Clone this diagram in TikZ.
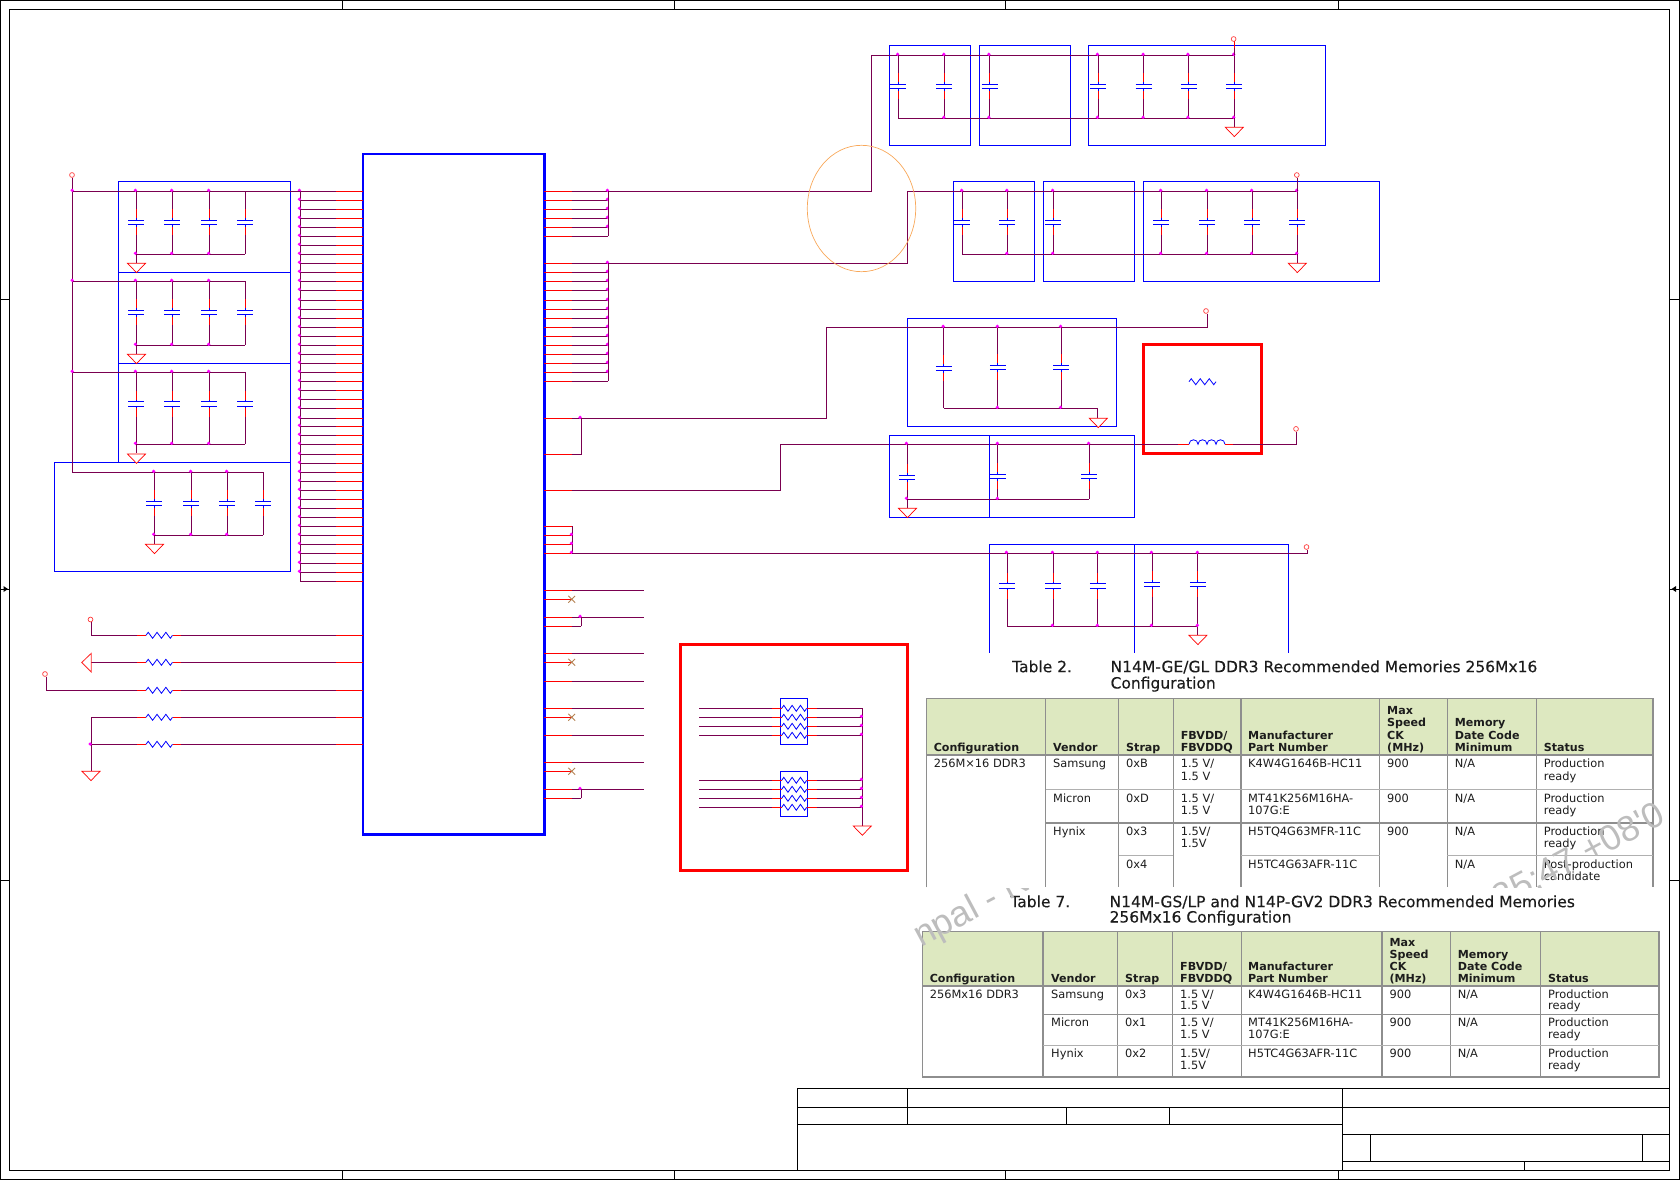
\documentclass[tikz,border=0pt]{standalone}
\usepackage{fontspec}
\setmainfont{DejaVu Sans}
\newfontfamily\wmfont{Liberation Sans}
\newfontfamily\captfont[FakeBold=0.25]{DejaVu Sans}
\definecolor{wirec}{HTML}{7A0050}
\definecolor{dotc}{HTML}{FF00FF}
\definecolor{hdrc}{HTML}{DDE8C0}
\definecolor{gridc}{HTML}{8E8E8E}
\definecolor{xc}{HTML}{B48050}
\definecolor{ovalc}{HTML}{F8A85A}
\definecolor{wmc}{HTML}{BDBDBD}
\definecolor{txtc}{HTML}{1C1C1C}
\tikzset{
  wire/.style={draw=wirec,line width=0.9pt},
  lead/.style={draw=red,line width=0.9pt},
  part/.style={draw=blue,line width=0.9pt},
  bluebox/.style={draw=blue,line width=0.9pt},
  redbox/.style={draw=red,line width=3pt},
  frameline/.style={draw=black,line width=0.9pt},
  gridline/.style={draw=gridc,line width=1.1pt},
  gridthin/.style={draw=gridc!70,line width=0.9pt},
  gnd/.style={draw=red,line width=0.7pt,fill=white},
  opencirc/.style={draw=red!75,line width=0.7pt},
  body/.style={anchor=base west,yshift=-4pt,inner sep=0pt,text=txtc,font=\fontsize{11.4}{13}\selectfont},
  head/.style={anchor=base west,yshift=-4pt,inner sep=0pt,text=txtc,font=\fontsize{11.1}{13}\selectfont\bfseries},
  capt/.style={anchor=base west,yshift=-5.5pt,inner sep=0pt,text=txtc,font=\captfont\fontsize{15.5}{17}\selectfont},
}
\newcount\tcnt
\newcommand\sDot[2]{\fill[dotc] (#1-0.6,#2-1) circle (1.8);}
\newcommand\sCap[4]{% x, ytop, plate y, ybot
  \draw[wire] (#1,#2) -- (#1,#4);
  \draw[lead] (#1,#3-11) -- (#1,#3+15);
  \fill[white] (#1-1,#3) rectangle (#1+1,#3+4.5);
  \draw[part,line width=1pt] (#1-8,#3) -- (#1+8,#3) (#1-8,#3+4.5) -- (#1+8,#3+4.5) (#1,#3-2) -- (#1,#3) (#1,#3+4.5) -- (#1,#3+6.5);
}
\newcommand\sGnd[2]{\draw[gnd] (#1-9,#2) -- (#1+9,#2) -- (#1,#2+9.3) -- cycle;}
\newcommand\sOpen[2]{\draw[opencirc] (#1,#2) circle (2.4);}
\newcommand\sRes[3]{% x1,x2,y
  \pgfmathsetmacro\zs{(#2-#1)/6}
  \pgfmathsetmacro\zh{\zs/2}
  \draw[part,line width=0.8pt] (#1,#3) -- ++(\zh,-3) -- ++(\zs,6) -- ++(\zs,-6) -- ++(\zs,6) -- ++(\zs,-6) -- ++(\zs,6) -- ++(\zh,-3);
}
\newcommand\sRline[2]{% x start, y
  \draw[wire] (#1,#2) -- (137,#2);
  \draw[lead] (137,#2) -- (146,#2);
  \sRes{146}{172.5}{#2}
  \draw[lead] (172.5,#2) -- (181,#2);
  \draw[wire] (181,#2) -- (336,#2);
  \draw[lead] (336,#2) -- (363,#2);
}
\newcommand\sX[2]{\draw[xc,line width=0.9pt] (#1-3.4,#2-3.4) -- (#1+3.4,#2+3.4) (#1-3.4,#2+3.4) -- (#1+3.4,#2-3.4);}
\newcommand\sRN[1]{% one line of resistor network
  \draw[wire] (699,#1) -- (771.7,#1);
  \draw[lead] (771.7,#1) -- (781.7,#1);
  \sRes{781.7}{806.7}{#1}
  \draw[lead] (806.7,#1) -- (816.7,#1);
  \draw[wire] (816.7,#1) -- (862.3,#1);
}
\newcommand\sT[4][body]{\global\advance\tcnt by 1 \node[#1] (t\the\tcnt) at (#2,#3) {#4};}
\begin{document}
\begin{tikzpicture}[x=1pt,y=-1pt]
\useasboundingbox (0,0) rectangle (1680,1180);
% --- frame
\draw[frameline] (0.7,0.7) rectangle (1679.3,1179.3);
\draw[frameline] (9.7,9.5) rectangle (1669.7,1170.3);
\foreach \x in {342,674,1005.5,1338} {\draw[frameline] (\x,0.7) -- (\x,9.5); \draw[frameline] (\x,1170.3) -- (\x,1179.3);}
\foreach \y in {299.5,880} {\draw[frameline] (0.7,\y) -- (9.7,\y); \draw[frameline] (1669.7,\y) -- (1679.3,\y);}
\draw[frameline] (0.7,589) -- (9.7,589);
\draw[frameline] (1669.7,589) -- (1679.3,589);
\fill[black] (8,589) -- (3.5,586) -- (3.5,592) -- cycle;
\fill[black] (1671.5,589) -- (1676,586) -- (1676,592) -- cycle;
% --- title block
\draw[frameline] (797,1170.3) -- (797,1088.7) -- (1669.7,1088.7);
\draw[frameline] (797,1107.7) -- (1669.7,1107.7);
\draw[frameline] (797,1124.3) -- (1342.7,1124.3);
\draw[frameline] (1342.7,1088.7) -- (1342.7,1170.3);
\draw[frameline] (907.5,1088.7) -- (907.5,1124.3);
\draw[frameline] (1066.7,1107.7) -- (1066.7,1124.3);
\draw[frameline] (1169.3,1107.7) -- (1169.3,1124.3);
\draw[frameline] (1342.7,1134.3) -- (1669.7,1134.3);
\draw[frameline] (1342.7,1161.3) -- (1669.7,1161.3);
\draw[frameline] (1370.7,1134.3) -- (1370.7,1161.3);
\draw[frameline] (1642.5,1134.3) -- (1642.5,1161.3);
\draw[frameline] (1524,1161.3) -- (1524,1170.3);
% --- main IC
\draw[draw=blue,line width=2.8pt] (363,154) rectangle (544.3,834.5);
% --- left pins
\draw[wire] (300.3,191.3) -- (300.3,581.3);
\foreach \y in {191.3,200.3,209.3,218.3,227.3,236.3,245.3,254.3,263.3,272.3,281.3,290.3,300.3,309.3,318.3,327.3,336.3,345.3,354.3,363.3,372.3,381.3,390.3,399.3,408.3,418.3,426.3,435.3,444.3,454.3,463.3,472.3,481.3,490.3,499.3,508.3,517.3,526.3,535.3,544.3,553.3,563.3,572.3}
 {\draw[wire] (300.3,\y) -- (336,\y); \draw[lead] (336,\y) -- (363,\y); \sDot{300}{\y}}
\draw[wire] (300.3,581.3) -- (336,581.3); \draw[lead] (336,581.3) -- (363,581.3);
% --- left decoupling boxes
\draw[bluebox] (118.3,181.3) rectangle (290.3,272.3);
\draw[bluebox] (118.3,272.3) rectangle (290.3,363.3);
\draw[bluebox] (118.3,363.3) rectangle (290.3,462.3);
\draw[bluebox] (54.3,462.3) rectangle (290.3,571.3);
\sOpen{72}{175}
\draw[wire] (72.3,177.5) -- (72.3,472.3) -- (263.3,472.3);
\draw[wire] (72.3,191.3) -- (300.3,191.3);
\draw[wire] (72.3,281.3) -- (245.3,281.3);
\draw[wire] (72.3,372.3) -- (245.3,372.3);
\foreach \y in {191.3,281.3,372.3} {\sDot{72.8}{\y}}
\foreach \yt/\yp/\yb in {191.3/220.3/254.3,281.3/310.3/345.3,372.3/401.7/444.3} {
  \draw[wire] (136,\yb) -- (245.3,\yb);
  \foreach \x in {136,172.3,209.3,245.3} {\sCap{\x}{\yt}{\yp}{\yb}}
  \foreach \x in {136,172.3,209.3} {\sDot{\x}{\yt}\sDot{\x}{\yb}}
  \draw[wire] (136,\yb) -- (136,\yb+9);
}
\sGnd{136.5}{263.3}
\sGnd{136.5}{354.3}
\sGnd{136.5}{454}
\draw[wire] (154.3,535.3) -- (263.3,535.3);
\foreach \x in {154.3,191.3,227.3,263.3} {\sCap{\x}{472.3}{501.3}{535.3}}
\foreach \x in {154.3,191.3,227.3} {\sDot{\x}{472.3}\sDot{\x}{535.3}}
\draw[wire] (154.3,535.3) -- (154.3,544.3);
\sGnd{154.5}{544.3}
% --- left resistors
\sRline{91.3}{635.3}
\draw[wire] (91.3,622) -- (91.3,635.3);
\sOpen{90.5}{619.5}
\sRline{91.3}{662.3}
\draw[draw=red!85,line width=0.8pt] (91.3,653.3) -- (91.3,672) -- (81.7,662.5) -- cycle;
\sRline{46.3}{690.3}
\draw[wire] (46.3,676.7) -- (46.3,690.3);
\sOpen{45}{674}
\sRline{91.3}{717.3}
\sRline{91.3}{744.3}
\draw[wire] (91.3,717.3) -- (91.3,771.3);
\sDot{90.8}{745}
\sGnd{91}{771.3}
% --- right pins, groups A, B
\foreach \y in {191.3,200.3,209.3,218.3,227.3,263.3,272.3,281.3,290.3,300.3,309.3,318.3,327.3,336.3,345.3,354.3,363.3,372.3}
 {\draw[lead] (544.3,\y) -- (571.7,\y); \draw[wire] (571.7,\y) -- (608.3,\y); \sDot{608}{\y}}
\foreach \y in {236.3,381.3}
 {\draw[lead] (544.3,\y) -- (571.7,\y); \draw[wire] (571.7,\y) -- (608.3,\y);}
\draw[wire] (608.3,191.3) -- (608.3,236.3);
\draw[wire] (608.3,263.3) -- (608.3,381.3);
% --- top row
\draw[bluebox] (889.3,45.3) rectangle (970.5,145.3);
\draw[bluebox] (979.4,45.3) rectangle (1070.4,145.3);
\draw[bluebox] (1088.4,45.3) rectangle (1325.2,145.3);
\draw[wire] (608.3,191.3) -- (871.3,191.3) -- (871.3,55.3) -- (1234.3,55.3);
\draw[wire] (898.2,118.3) -- (1234.3,118.3);
\foreach \x in {898.2,944.4,989.5,1098,1143.7,1188.5,1234.3} {\sCap{\x}{55.3}{84.3}{118.3}\sDot{\x}{55.3}}
\foreach \x in {944.4,989.5,1098,1143.7,1188.5,1234.3} {\sDot{\x}{118.3}}
\draw[wire] (1234.3,118.3) -- (1234.3,127.3);
\sGnd{1234.3}{127.3}
\draw[lead] (1234.3,41.5) -- (1234.3,48);
\draw[wire] (1234.3,48) -- (1234.3,55.3);
\sOpen{1233.6}{39}
% --- second row
\draw[bluebox] (953.3,181.3) rectangle (1034.2,281.3);
\draw[bluebox] (1043.2,181.3) rectangle (1134.5,281.3);
\draw[bluebox] (1143.4,181.3) rectangle (1379.3,281.3);
\draw[wire] (608.3,263.3) -- (907.3,263.3) -- (907.3,191.3) -- (1297.3,191.3);
\draw[wire] (962.3,254.3) -- (1297.3,254.3);
\foreach \x in {962.3,1007.4,1053.2,1161.3,1207.1,1252.2,1297.3} {\sCap{\x}{191.3}{220.3}{254.3}\sDot{\x}{191.3}}
\foreach \x in {1007.4,1053.2,1161.3,1207.1,1252.2,1297.3} {\sDot{\x}{254.3}}
\draw[wire] (1297.3,254.3) -- (1297.3,263.3);
\sGnd{1297.3}{263.3}
\draw[wire] (1297.3,177.5) -- (1297.3,191.3);
\sOpen{1296.8}{175}
% --- oval marking
\draw[ovalc,line width=0.7pt] (861.5,208.5) ellipse [x radius=54.2,y radius=63.2];
% --- third block
\draw[bluebox] (907.6,318.3) rectangle (1116.7,426.3);
\draw[lead] (544.3,418.3) -- (571.7,418.3);
\draw[wire] (571.7,418.3) -- (826.3,418.3) -- (826.3,327.3) -- (1207,327.3) -- (1207,313.5);
\sOpen{1206}{311}
\draw[lead] (544.3,454.3) -- (571.7,454.3);
\draw[wire] (571.7,454.3) -- (581,454.3) -- (581,418.3);
\sDot{580.6}{418.3}
\draw[wire] (943.8,408.3) -- (1097.9,408.3) -- (1097.9,418.3);
\sCap{943.8}{327.3}{366.3}{408.3}
\sCap{997.9}{327.3}{365.3}{408.3}
\sCap{1061.1}{327.3}{365.3}{408.3}
\foreach \x in {943.8,997.9,1061.1} {\sDot{\x}{327.3}}
\foreach \x in {997.9,1061.1} {\sDot{\x}{408.3}}
\sGnd{1098.3}{418.3}
% --- red box with series parts
\draw[redbox] (1143.8,344) rectangle (1261.1,453.7);
\sRes{1189}{1216}{381.7}
\draw[lead] (544.3,490.3) -- (571.7,490.3);
\draw[wire] (571.7,490.3) -- (780.5,490.3) -- (780.5,444.3) -- (1178,444.3);
\draw[lead] (1178,444.3) -- (1189,444.3);
\draw[part,line width=0.8pt] (1189,444.3) .. controls +(0,-6) and +(0,-6) .. ++(9,0) .. controls +(0,-6) and +(0,-6) .. ++(9,0) .. controls +(0,-6) and +(0,-6) .. ++(9,0) .. controls +(0,-6) and +(0,-6) .. ++(9,0);
\draw[lead] (1225,444.3) -- (1233,444.3);
\draw[wire] (1233,444.3) -- (1296.8,444.3) -- (1296.8,431.5);
\sOpen{1296}{428.9}
% --- fourth block
\draw[bluebox] (889.7,435.3) rectangle (1134.6,517.3);
\draw[bluebox] (989.7,435.3) -- (989.7,517.3);
\draw[wire] (907,499.3) -- (1089.2,499.3);
\sCap{907}{444.3}{475}{499.3}
\sCap{997.9}{444.3}{474}{499.3}
\sCap{1089.2}{444.3}{474}{499.3}
\foreach \x in {907,997.9,1089.2} {\sDot{\x}{444.3}}
\foreach \x in {907,997.9} {\sDot{\x}{499.3}}
\draw[wire] (907,499.3) -- (907,508.3);
\sGnd{907.5}{508.3}
% --- fifth block
\foreach \y in {526.3,535.3,544.3,553.3} {\draw[lead] (544.3,\y) -- (572.3,\y);}
\draw[wire] (572.3,526.3) -- (572.3,553.3);
\foreach \y in {535.3,544.3,553.3} {\sDot{572}{\y}}
\draw[bluebox] (989.7,652.7) -- (989.7,544.3) -- (1288.7,544.3) -- (1288.7,652.7);
\draw[bluebox] (1134.6,544.3) -- (1134.6,652.7);
\draw[wire] (572.3,553.3) -- (1307.6,553.3) -- (1307.6,549.5);
\sOpen{1306.5}{547}
\draw[wire] (1007,626.3) -- (1197.9,626.3) -- (1197.9,635.3);
\foreach \x/\p in {1007/583.7,1053/583.7,1097.9/583.7,1152/582.3,1197.9/582.3} {\sCap{\x}{553.3}{\p}{626.3}\sDot{\x}{553.3}}
\foreach \x in {1053,1097.9,1152,1197.9} {\sDot{\x}{626.3}}
\sGnd{1197.9}{635.3}
% --- lower right pins
\foreach \y in {590.3,617.3,653.3,681.3,708.3,735.3,762.3,789.3}
 {\draw[lead] (544.3,\y) -- (571.7,\y); \draw[wire] (571.7,\y) -- (643.7,\y);}
\foreach \y in {599.3,662.3,717.3,771.3}
 {\draw[lead] (544.3,\y) -- (571.7,\y); \sX{571.7}{\y}}
\foreach \y in {626.3,798.3}
 {\draw[lead] (544.3,\y) -- (571.7,\y); \draw[wire] (571.7,\y) -- (581.3,\y);}
\draw[wire] (581.3,626.3) -- (581.3,617.3);
\sDot{580.6}{617.3}
\draw[wire] (581.3,798.3) -- (581.3,789.3);
\sDot{580.6}{789.3}
% --- red box with resistor networks
\draw[redbox] (680.3,644) rectangle (907,870.7);
\draw[bluebox] (780.3,698.3) rectangle (807.7,744.3);
\draw[bluebox] (780.3,771.3) rectangle (807.7,816.3);
\foreach \y in {708.3,717.3,726.3,735.3,780.3,789.3,798.3,807.3} {\sRN{\y}}
\draw[wire] (862.3,708.3) -- (862.3,826);
\foreach \y in {717.3,726.3,735.3,780.3,789.3,798.3,807.3} {\sDot{862}{\y}}
\sGnd{862.3}{826}
% --- Table 2
\fill[hdrc] (926.2,698.3) rectangle (1653,755);
\draw[gridline] (926.2,887.3) -- (926.2,698.3) -- (1653,698.3) -- (1653,887.3);
\draw[gridline] (926.2,755) -- (1653,755);
\foreach \x in {1045.6,1118.7,1173.3,1241,1379.5,1447.3,1536.7} {\draw[gridline] (\x,698.3) -- (\x,887.3);}
\draw[gridthin] (1045.6,789) -- (1653,789);
\draw[gridline] (1045.6,823) -- (1653,823);
\draw[gridthin] (1118.7,855.3) -- (1173.3,855.3) (1241,855.3) -- (1379.5,855.3) (1447.3,855.3) -- (1653,855.3);
\sT[capt]{1012}{666.7}{Table 2.}
\sT[capt]{1110.4}{666.7}{N14M-GE/GL DDR3 Recommended Memories 256Mx16}
\sT[capt]{1110.4}{683}{Configuration}
\sT[head]{933.6}{747.7}{Configuration}
\sT[head]{1053}{747.7}{Vendor}
\sT[head]{1126}{747.7}{Strap}
\sT[head]{1180.6}{735}{FBVDD/}
\sT[head]{1180.6}{747.7}{FBVDDQ}
\sT[head]{1248}{735}{Manufacturer}
\sT[head]{1248}{747.7}{Part Number}
\sT[head]{1387}{710.7}{Max}
\sT[head]{1387}{722.3}{Speed}
\sT[head]{1387}{735}{CK}
\sT[head]{1387}{747.7}{(MHz)}
\sT[head]{1454.7}{722.3}{Memory}
\sT[head]{1454.7}{735}{Date Code}
\sT[head]{1454.7}{747.7}{Minimum}
\sT[head]{1543.6}{747.7}{Status}
\sT{933.6}{763.7}{256M×16 DDR3}
\sT{1053}{763.7}{Samsung}
\sT{1126}{763.7}{0xB}
\sT{1180.6}{763.7}{1.5 V/}
\sT{1180.6}{776}{1.5 V}
\sT{1248}{763.7}{K4W4G1646B-HC11}
\sT{1387}{763.7}{900}
\sT{1454.7}{763.7}{N/A}
\sT{1543.6}{763.7}{Production}
\sT{1543.6}{776}{ready}
\sT{1053}{798}{Micron}
\sT{1126}{798}{0xD}
\sT{1180.6}{798}{1.5 V/}
\sT{1180.6}{810.3}{1.5 V}
\sT{1248}{798}{MT41K256M16HA-}
\sT{1248}{810.3}{107G:E}
\sT{1387}{798}{900}
\sT{1454.7}{798}{N/A}
\sT{1543.6}{798}{Production}
\sT{1543.6}{810.3}{ready}
\sT{1053}{831.3}{Hynix}
\sT{1126}{831.3}{0x3}
\sT{1180.6}{831.3}{1.5V/}
\sT{1180.6}{843.3}{1.5V}
\sT{1248}{831.3}{H5TQ4G63MFR-11C}
\sT{1387}{831.3}{900}
\sT{1454.7}{831.3}{N/A}
\sT{1543.6}{831.3}{Production}
\sT{1543.6}{843.3}{ready}
\sT{1126}{864}{0x4}
\sT{1248}{864}{H5TC4G63AFR-11C}
\sT{1454.7}{864}{N/A}
\sT{1543.6}{864}{Post-production}
\sT{1543.6}{876}{candidate}
% --- Table 7
\fill[hdrc] (922.3,931.7) rectangle (1659,986);
\draw[gridline] (922.3,931.7) rectangle (1659,1077);
\draw[gridline] (922.3,986) -- (1659,986);
\foreach \x in {1043,1117.8,1172.8,1241.5,1382,1450.3,1540.6} {\draw[gridline] (\x,931.7) -- (\x,1077);}
\draw[gridline] (1043,1014.7) -- (1659,1014.7);
\draw[gridthin] (1043,1045.7) -- (1659,1045.7);
\sT[capt]{1010.2}{901.7}{Table 7.}
\sT[capt]{1109.4}{901.7}{N14M-GS/LP and N14P-GV2 DDR3 Recommended Memories}
\sT[capt]{1109.4}{917}{256Mx16 Configuration}
\sT[head]{929.6}{978.7}{Configuration}
\sT[head]{1051}{978.7}{Vendor}
\sT[head]{1125}{978.7}{Strap}
\sT[head]{1180}{966.7}{FBVDD/}
\sT[head]{1180}{978.7}{FBVDDQ}
\sT[head]{1248}{966.7}{Manufacturer}
\sT[head]{1248}{978.7}{Part Number}
\sT[head]{1389.4}{942.7}{Max}
\sT[head]{1389.4}{954.7}{Speed}
\sT[head]{1389.4}{966.7}{CK}
\sT[head]{1389.4}{978.7}{(MHz)}
\sT[head]{1457.6}{954.7}{Memory}
\sT[head]{1457.6}{966.7}{Date Code}
\sT[head]{1457.6}{978.7}{Minimum}
\sT[head]{1548}{978.7}{Status}
\sT{929.6}{994}{256Mx16 DDR3}
\sT{1051}{994}{Samsung}
\sT{1125}{994}{0x3}
\sT{1180}{994}{1.5 V/}
\sT{1180}{1005.7}{1.5 V}
\sT{1248}{994}{K4W4G1646B-HC11}
\sT{1389.4}{994}{900}
\sT{1457.6}{994}{N/A}
\sT{1548}{994}{Production}
\sT{1548}{1005.7}{ready}
\sT{1051}{1022.7}{Micron}
\sT{1125}{1022.7}{0x1}
\sT{1180}{1022.7}{1.5 V/}
\sT{1180}{1034}{1.5 V}
\sT{1248}{1022.7}{MT41K256M16HA-}
\sT{1248}{1034}{107G:E}
\sT{1389.4}{1022.7}{900}
\sT{1457.6}{1022.7}{N/A}
\sT{1548}{1022.7}{Production}
\sT{1548}{1034}{ready}
\sT{1051}{1053.7}{Hynix}
\sT{1125}{1053.7}{0x2}
\sT{1180}{1053.7}{1.5V/}
\sT{1180}{1065.3}{1.5V}
\sT{1248}{1053.7}{H5TC4G63AFR-11C}
\sT{1389.4}{1053.7}{900}
\sT{1457.6}{1053.7}{N/A}
\sT{1548}{1053.7}{Production}
\sT{1548}{1065.3}{ready}
% --- watermark pieces
\begin{scope}
\clip (1480,770) rectangle (1668,887.3);
\node[anchor=base east,rotate=28,text=wmc,inner sep=0pt,font=\wmfont\fontsize{36}{40}\selectfont] (wm1) at (1667,822) {25:47 +08'0};
\end{scope}
\begin{scope}
\clip (900,888) rectangle (1090,950);
\node[anchor=base west,rotate=28,text=wmc,inner sep=0pt,font=\wmfont\fontsize{36}{40}\selectfont] (wm2) at (921,948) {npal - N};
\end{scope}
\end{tikzpicture}
\end{document}
